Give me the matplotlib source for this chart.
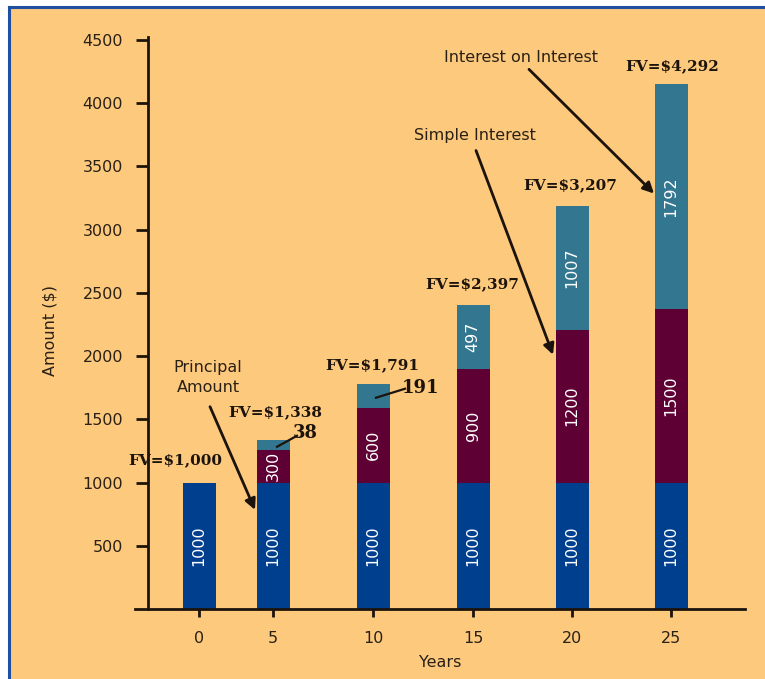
import matplotlib
matplotlib.use("Agg")
import matplotlib.pyplot as plt
from matplotlib.lines import Line2D
from matplotlib.patches import Rectangle

years = ["0", "5", "10", "15", "20", "25"]
principal = [1000, 1000, 1000, 1000, 1000, 1000]
simple_int = [0, 260, 590, 900, 1210, 1375]
int_on_int = [0, 75, 190, 505, 980, 1775]
principal_lbl = ["1000", "1000", "1000", "1000", "1000", "1000"]
simple_lbl = ["", "300", "600", "900", "1200", "1500"]
int_lbl = ["", "", "", "497", "1007", "1792"]
fv_lbl = ["FV=$1,000", "FV=$1,338", "FV=$1,791", "FV=$2,397", "FV=$3,207", "FV=$4,292"]
yticks = [500, 1000, 1500, 2000, 2500, 3000, 3500, 4000, 4500]

# layout: bar positions (0 sits closer to 5 than the others)
xpos = [0, 0.74, 1.74, 2.74, 3.73, 4.72]
bw = 0.33
fv_dx = [-0.24, 0.02, -0.01, -0.01, -0.02, 0.01]
fv_dy = [180, 220, 150, 165, 158, 142]

peach = "#FDC97D"
c_blue = "#003F8E"
c_maroon = "#5F0035"
c_teal = "#337690"
ink = "#1c140c"
txt = "#2a2016"
sans = "DejaVu Sans"

fig = plt.figure(figsize=(7.65, 6.79), dpi=100, facecolor="white")
fig.patches.append(Rectangle((9 / 765, 0), 1, 1 - 7 / 679, transform=fig.transFigure,
                             facecolor=peach, edgecolor="none", zorder=-10))
fig.lines.append(Line2D([9 / 765, 9 / 765], [0, 1 - 7 / 679], transform=fig.transFigure,
                        color="#1E4FA0", lw=2.2, zorder=-5))
fig.lines.append(Line2D([9 / 765, 1], [1 - 7 / 679, 1 - 7 / 679], transform=fig.transFigure,
                        color="#1E4FA0", lw=2.2, zorder=-5))

ax = fig.add_axes([135 / 765, 70 / 679, 610 / 765, 569 / 679])
ax.set_facecolor("none")
ax.set_xlim(-0.64, 5.46)
ax.set_ylim(0, 4500)

bottom2 = [p + s for p, s in zip(principal, simple_int)]
tops = [b + i for b, i in zip(bottom2, int_on_int)]
ax.bar(xpos, principal, bw, color=c_blue, zorder=2)
ax.bar(xpos, simple_int, bw, bottom=principal, color=c_maroon, zorder=2)
ax.bar(xpos, int_on_int, bw, bottom=bottom2, color=c_teal, zorder=2)

inbar = dict(color="white", rotation=90, ha="center", va="center", fontsize=11.5,
             family=sans, zorder=3)
for i, x in enumerate(xpos):
    ax.text(x, principal[i] / 2, principal_lbl[i], **inbar)
    if simple_lbl[i]:
        ax.text(x, principal[i] + simple_int[i] / 2, simple_lbl[i], **inbar)
    if int_lbl[i]:
        ax.text(x, bottom2[i] + int_on_int[i] / 2, int_lbl[i], **inbar)
    ax.text(x + fv_dx[i], tops[i] + fv_dy[i], fv_lbl[i], ha="center", va="center",
            fontsize=11, fontweight="bold", family="DejaVu Serif", color=ink)

# small interest labels with leader lines
small = dict(fontsize=13, fontweight="bold", family="DejaVu Serif", color=ink,
             ha="center", va="center")
ax.text(1.06, 1393, "38", **small)
ax.plot([0.78, 0.98], [1283, 1370], color=ink, lw=1.6, zorder=4)
ax.text(2.21, 1750, "191", **small)
ax.plot([1.77, 2.06], [1671, 1742], color=ink, lw=1.6, zorder=4)

note = dict(fontsize=11.5, family=sans, color=txt, ha="center", va="center")
arrow = dict(arrowstyle="-|>", color=ink, lw=2, mutation_scale=16, shrinkA=0, shrinkB=0)
ax.text(0.09, 1830, "Principal\nAmount", linespacing=1.45, **note)
ax.annotate("", xy=(0.56, 784), xytext=(0.11, 1600), arrowprops=arrow, zorder=4)
ax.text(2.76, 3745, "Simple Interest", **note)
ax.annotate("", xy=(3.54, 2011), xytext=(2.77, 3626), arrowprops=arrow, zorder=4)
ax.text(3.22, 4363, "Interest on Interest", **note)
ax.annotate("", xy=(4.55, 3286), xytext=(3.30, 4268), arrowprops=arrow, zorder=4)

for s in ["top", "right"]:
    ax.spines[s].set_visible(False)
ax.spines["left"].set_position(("axes", 13 / 610))
ax.spines["left"].set_bounds(0, 4520)
for s in ["left", "bottom"]:
    ax.spines[s].set_linewidth(2)
    ax.spines[s].set_color(ink)

ax.set_xticks(xpos)
ax.set_xticklabels(years)
ax.set_yticks(yticks)
ax.tick_params(axis="y", length=9, width=2, pad=9, labelsize=11.5, colors=ink,
               labelcolor=txt)
ax.tick_params(axis="x", length=6, width=2, pad=10, labelsize=11.5, colors=ink,
               labelcolor=txt)
for lab in ax.get_xticklabels() + ax.get_yticklabels():
    lab.set_family(sans)

ax.set_xlabel("Years", fontsize=11.5, family=sans, color=txt, labelpad=6)
fig.text(50 / 765, 1 - 330 / 679, "Amount ($)", rotation=90, ha="center", va="center",
         fontsize=11.5, family=sans, color=txt)

fig.savefig("out.png", dpi=100, facecolor=fig.get_facecolor())
